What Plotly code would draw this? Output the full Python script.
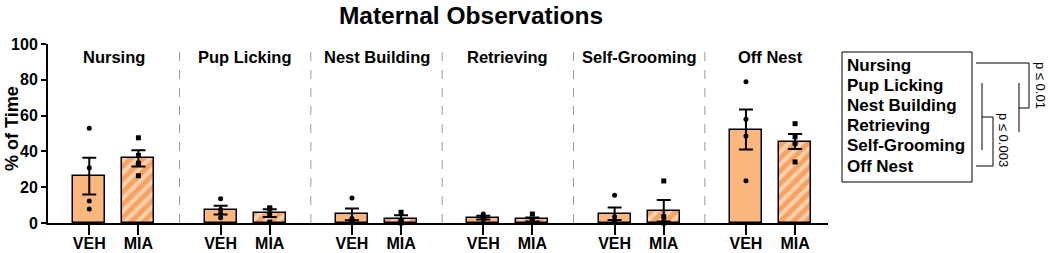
import plotly.graph_objects as go

# ---- data ----
behaviors = ["Nursing", "Pup Licking", "Nest Building", "Retrieving", "Self-Grooming", "Off Nest"]
groups = ["VEH", "MIA"]
veh_mean = [26.2, 7.2, 4.8, 3.0, 5.2, 52.2]
veh_sem = [10.3, 2.5, 3.3, 1.0, 3.5, 11.2]
mia_mean = [36.1, 5.5, 2.0, 2.0, 6.8, 45.5]
mia_sem = [4.5, 2.2, 2.3, 1.1, 6.0, 4.2]
veh_points = [
    [52.9, 30.9, 12.3, 7.8],
    [13.5, 7.5, 5.5, 3.0],
    [14.0, 2.5, 1.5, 1.0],
    [5.0, 3.0, 2.5, 2.0],
    [15.5, 3.5, 1.0, 0.5],
    [78.9, 57.9, 48.6, 23.6],
]
mia_points = [
    [47.6, 37.8, 33.4, 26.4],
    [8.5, 8.0, 5.0, 0.5],
    [6.0, 1.5, 0.5, 0.0],
    [5.0, 1.5, 1.0, 0.5],
    [23.5, 3.5, 0.5, 0.0],
    [55.5, 48.2, 44.5, 34.1],
]
y_ticks = [0, 20, 40, 60, 80, 100]
legend_lines = ["Nursing", "Pup Licking", "Nest Building", "Retrieving", "Self-Grooming", "Off Nest"]
sig_labels = ["p ≤ 0.01", "p ≤ 0.003"]

# ---- layout constants (window pixels; body margin removed in page) ----
W, H = 1050, 253
L, R_px, T, B_px = 48, 828, 44, 223
GAP = 2.673
FONT = "Liberation Sans, Arial, sans-serif"
VEH_COLOR = "#FBB77E"
MIA_COLOR = "#F7A261"

veh_x = [i * GAP for i in range(len(behaviors))]
mia_x = [i * GAP + 1 for i in range(len(behaviors))]
xmin, xmax = -0.84, mia_x[-1] + 0.67


def px(xp):
    return (xp - L) / (R_px - L)


def py(yp):
    return (B_px - yp) / (B_px - T)


fig = go.Figure()
fig.add_trace(go.Bar(
    x=veh_x, y=veh_mean, width=0.65,
    marker=dict(color=VEH_COLOR, line=dict(color="black", width=1.5)),
    error_y=dict(type="data", array=veh_sem, color="black", thickness=2, width=7),
    showlegend=False,
))
fig.add_trace(go.Bar(
    x=mia_x, y=mia_mean, width=0.65,
    marker=dict(color=MIA_COLOR, line=dict(color="black", width=1.5),
                pattern=dict(shape="/", fgcolor="white", fillmode="overlay", size=9, solidity=0.45)),
    error_y=dict(type="data", array=mia_sem, color="black", thickness=2, width=7),
    showlegend=False,
))

vx, vy, mx, my = [], [], [], []
for i in range(len(behaviors)):
    for v in veh_points[i]:
        vx.append(veh_x[i]); vy.append(v)
    for v in mia_points[i]:
        mx.append(mia_x[i]); my.append(v)
fig.add_trace(go.Scatter(x=vx, y=vy, mode="markers", cliponaxis=False,
                         marker=dict(symbol="circle", size=5, color="black"), showlegend=False))
fig.add_trace(go.Scatter(x=mx, y=my, mode="markers", cliponaxis=False,
                         marker=dict(symbol="square", size=5, color="black"), showlegend=False))

shapes = []
# dashed separators
for i in range(1, len(behaviors)):
    xs = (mia_x[i - 1] + veh_x[i]) / 2
    shapes.append(dict(type="line", xref="x", yref="paper", x0=xs, x1=xs, y0=0, y1=1.0,
                       line=dict(color="#9a9a9a", width=1, dash="dash")))
# legend box
shapes.append(dict(type="rect", xref="paper", yref="paper", x0=px(842), x1=px(972), y0=py(52), y1=py(182),
                   line=dict(color="black", width=1)))
# bracket 1 (p <= 0.01)
for (x0, y0, x1, y1) in [(976, 63, 1029, 63), (1029, 63, 1029, 108), (1019, 108, 1029, 108), (1019, 83, 1019, 132)]:
    shapes.append(dict(type="line", xref="paper", yref="paper", x0=px(x0), y0=py(y0), x1=px(x1), y1=py(y1),
                       line=dict(color="black", width=1)))
# bracket 2 (p <= 0.003)
for (x0, y0, x1, y1) in [(982, 83, 982, 150), (982, 117, 993, 117), (993, 117, 993, 166), (976, 166, 993, 166)]:
    shapes.append(dict(type="line", xref="paper", yref="paper", x0=px(x0), y0=py(y0), x1=px(x1), y1=py(y1),
                       line=dict(color="black", width=1)))

annotations = []
for i, b in enumerate(behaviors):
    annotations.append(dict(x=veh_x[i] + 0.5, y=py(57), xref="x", yref="paper", text=f"<b>{b}</b>",
                            showarrow=False, font=dict(family=FONT, size=16.5, color="black"),
                            xanchor="center", yanchor="middle"))
for k, t in enumerate(legend_lines):
    annotations.append(dict(x=px(845), y=py(65 + k * 20.2), xref="paper", yref="paper", text=f"<b>{t}</b>",
                            showarrow=False, font=dict(family=FONT, size=17, color="black"),
                            xanchor="left", yanchor="middle"))
annotations.append(dict(x=px(1041), y=py(85), xref="paper", yref="paper", text=sig_labels[0], showarrow=False,
                        textangle=90, font=dict(family=FONT, size=13, color="black"),
                        xanchor="center", yanchor="middle"))
annotations.append(dict(x=px(1004), y=py(140), xref="paper", yref="paper", text=sig_labels[1], showarrow=False,
                        textangle=90, font=dict(family=FONT, size=13, color="black"),
                        xanchor="center", yanchor="middle"))
# y-axis title
annotations.append(dict(x=px(12), y=py(129), xref="paper", yref="paper", text="<b>% of Time</b>", showarrow=False,
                        textangle=-90, font=dict(family=FONT, size=18, color="black"),
                        xanchor="center", yanchor="middle"))

fig.update_layout(
    width=W, height=H,
    margin=dict(l=L, r=W - R_px, t=T, b=H - B_px, autoexpand=False),
    paper_bgcolor="white", plot_bgcolor="white",
    bargap=0, barmode="overlay",
    title=dict(text="<b>Maternal Observations</b>", x=471 / W, xanchor="center",
               y=1 - 15 / H, yanchor="middle",
               font=dict(family=FONT, size=24.5, color="black"), automargin=False),
    font=dict(family=FONT, color="black"),
    shapes=shapes, annotations=annotations,
)
fig.update_xaxes(range=[xmin, xmax], tickvals=veh_x + mia_x, ticktext=["<b>VEH</b>"] * 6 + ["<b>MIA</b>"] * 6,
                 ticks="outside", ticklen=10, tickwidth=2, tickcolor="black", automargin=False,
                 ticklabelstandoff=-5,
                 showline=True, linecolor="black", linewidth=2, showgrid=False, zeroline=False,
                 tickfont=dict(family=FONT, size=16, color="black"))
fig.update_yaxes(range=[0, 100], tickvals=y_ticks, ticktext=[f"<b>{v}</b>" for v in y_ticks],
                 ticks="outside", ticklen=5, tickwidth=2, tickcolor="black", automargin=False,
                 showline=True, linecolor="black", linewidth=2, showgrid=False, zeroline=False,
                 tickfont=dict(family=FONT, size=16, color="black"))

fig.write_html("out.html", config={"displayModeBar": False},
               post_script="document.body.style.margin='0';document.body.style.overflow='hidden';")
